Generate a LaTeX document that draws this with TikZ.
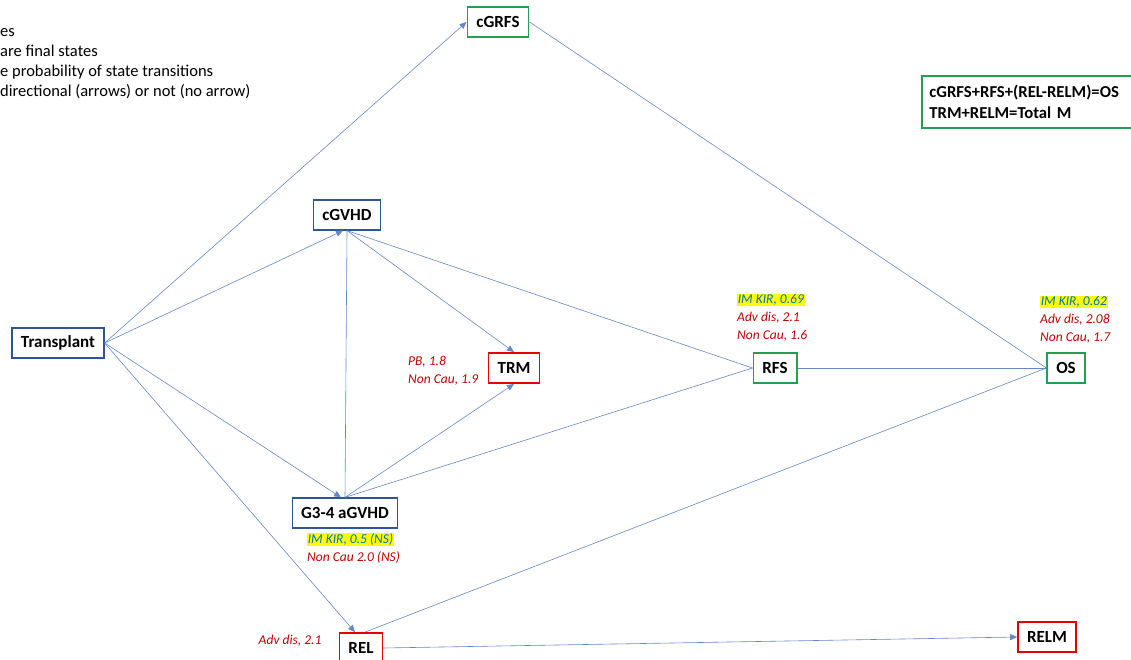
\documentclass[tikz,border=0pt]{standalone}
\usepackage{fontspec}
\setmainfont{Carlito}
\usetikzlibrary{positioning,arrows.meta}

\definecolor{boxblue}{RGB}{47,85,151}
\definecolor{boxgreen}{RGB}{34,160,80}
\definecolor{boxred}{RGB}{230,0,0}
\definecolor{lineblue}{RGB}{100,135,200}
\definecolor{lblred}{RGB}{192,0,0}
\definecolor{kirblue}{RGB}{0,112,192}
\definecolor{kiryellow}{RGB}{255,255,0}

\newcommand{\kir}[1]{{\setlength{\fboxsep}{0.6pt}\colorbox{kiryellow}{\textcolor{kirblue}{#1}}}}

\begin{document}
\begin{tikzpicture}[x=1pt, y=-1pt,
                    state/.style={draw=boxblue, line width=1.2pt, fill=white, font=\fontsize{17}{19}\selectfont\bfseries, inner xsep=9pt, minimum height=30pt},
                    final/.style={state, draw=boxgreen, line width=1.8pt},
                    death/.style={state, draw=boxred, line width=1.8pt},
                    link/.style={draw=lineblue, line width=0.6pt},
                    arrow/.style={link, -{Triangle[length=7pt,width=6pt]}},
                    effect/.style={font=\fontsize{13.5}{18}\selectfont\itshape, text=lblred, align=left, inner sep=0pt},
                    note/.style={font=\fontsize{16.5}{20}\selectfont, align=left, inner sep=0pt},
                ]
                    \useasboundingbox (0,0) rectangle (1131,660);

                    %Nodes
                    \node[state](transplant) at (58,343) {Transplant};
                    \node[final](cgrfs) at (498,22) {cGRFS};
                    \node[state](cgvhd) at (347,215) {cGVHD};
                    \node[death](trm) at (514,368) {TRM};
                    \node[final](rfs) at (775,368) {RFS};
                    \node[final](os) at (1066,368) {OS};
                    \node[state](agvhd) at (345,513) {G3-4 aGVHD};
                    \node[death](rel) at (361,648) {REL};
                    \node[death](relm) at (1047,637) {RELM};

                    %Legend and formula
                    \node[note, anchor=north west](legend) at (0,28) {es\\are final states\\e probability of state transitions\\directional (arrows) or not (no arrow)};
                    \node[draw=boxgreen, line width=1.8pt, anchor=north west, minimum width=220pt, minimum height=52pt, text width=205pt, align=left, font=\fontsize{16.7}{21}\selectfont\bfseries](formula) at (921,75) {cGRFS+RFS+(REL-RELM)=OS\\TRM+RELM=Total M};

                    %Effect labels
                    \node[effect, anchor=north west](rfslbl) at (737,294) {\kir{IM KIR, 0.69}\\Adv dis, 2.1\\Non Cau, 1.6};
                    \node[effect, anchor=north west](oslbl) at (1040,296) {\kir{IM KIR, 0.62}\\Adv dis, 2.08\\Non Cau, 1.7};
                    \node[effect, anchor=north west](trmlbl) at (408,356) {PB, 1.8\\Non Cau, 1.9};
                    \node[effect, anchor=north west](agvhdlbl) at (307,533) {\kir{IM KIR, 0.5 (NS)}\\Non Cau 2.0 (NS)};
                    \node[effect](rellbl)[left=17pt of rel, yshift=7pt] {Adv dis, 2.1};

                    %Lines
                    \draw[arrow](transplant.east) -- (cgrfs.west);
                    \draw[arrow](transplant.east) -- ([xshift=-4pt]cgvhd.south);
                    \draw[arrow](transplant.east) -- ([xshift=-4pt]agvhd.north);
                    \draw[arrow](transplant.east) -- ([xshift=-6pt]rel.north);
                    \draw[link](cgvhd.south) -- (agvhd.north);
                    \draw[arrow](cgvhd.south) -- (trm.north);
                    \draw[link](cgvhd.south) -- (rfs.west);
                    \draw[arrow](agvhd.north) -- (trm.south);
                    \draw[link](agvhd.north) -- (rfs.west);
                    \draw[link](rfs.east) -- (os.west);
                    \draw[link](cgrfs.east) -- (os.west);
                    \draw[link]([xshift=4pt]rel.north) -- (os.west);
                    \draw[arrow](rel.east) -- (relm.west);
                \end{tikzpicture}
\end{document}
